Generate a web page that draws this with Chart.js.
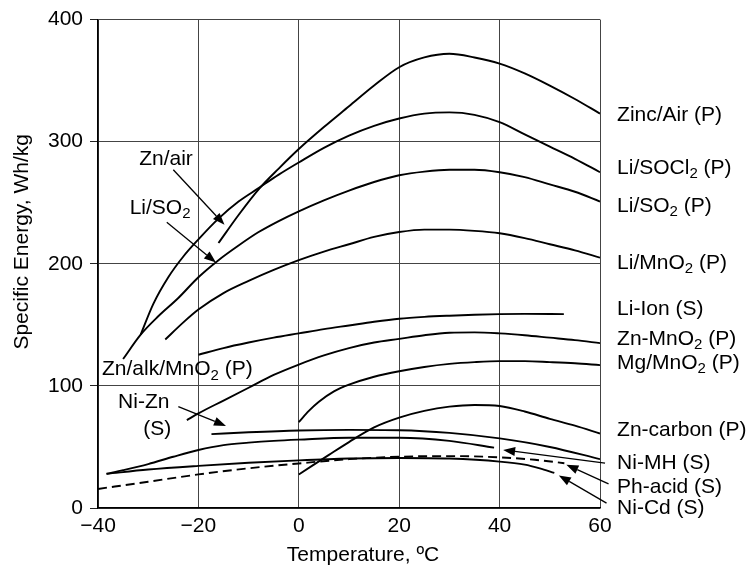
<!DOCTYPE html>
<html>
<head>
<meta charset="utf-8">
<script src="https://cdn.jsdelivr.net/npm/chart.js@4"></script>
<style>
  html, body { margin: 0; padding: 0; background: #fff; }
  canvas { display: block; }
</style>
</head>
<body>
<canvas id="chart" width="749" height="568"></canvas>
<script>
// ================================
// Data (temperature °C -> Wh/kg)
// ================================
const xTicks = [-40, -20, 0, 20, 40, 60];
const yTicks = [0, 100, 200, 300, 400];

const zincAirT = [-16, -12, -8, -4, 0, 5, 10, 15, 20, 25, 30, 35, 40, 45, 50, 55, 60];
const zincAirE = [217, 240, 261, 278, 294, 312, 329, 346, 361, 369, 372, 369, 364, 356, 346, 335, 323];

const liSocl2T = [-31.5, -29, -26, -23, -20, -16, -12, -8, -4, 0, 5, 10, 15, 20, 25, 30, 35, 40, 45, 50, 55, 60];
const liSocl2E = [142, 167, 189, 206, 220, 237, 251, 262, 273, 283, 295, 305, 313, 319, 323, 324, 322, 316, 306, 296, 286, 275];

const liSo2T = [-35, -31.5, -28, -24, -20, -16, -12, -8, -4, 0, 5, 10, 15, 20, 25, 30, 35, 40, 45, 50, 55, 60];
const liSo2E = [122, 142, 157, 172, 189, 203, 215, 226, 235, 243, 252, 260, 267, 272.5, 275.5, 277, 277, 275, 271, 265, 259, 251];

const liMno2T = [-26.6, -23, -20, -15, -10, -5, 0, 5, 10, 15, 20, 25, 30, 35, 40, 45, 50, 55, 60];
const liMno2E = [138, 152, 162.5, 176, 186, 195, 203, 210, 216, 222, 226, 228, 228, 227, 225, 221, 216, 211, 205];

const liIonT = [-20, -15, -10, -5, 0, 5, 10, 15, 20, 25, 30, 35, 40, 45, 52.8];
const liIonE = [125.5, 131, 135.5, 139.5, 143, 146.5, 149.5, 152.5, 155, 156.5, 157.5, 158.3, 158.8, 159, 158.8];

const znMno2T = [-22.3, -20, -15, -10, -5, 0, 5, 10, 15, 20, 25, 30, 35, 40, 45, 50, 55, 60];
const znMno2E = [72, 77.5, 88, 98.5, 109, 117.5, 125, 131, 135.5, 138.5, 141.5, 143.5, 143.8, 143, 141.5, 139.5, 137.5, 135];

const mgMno2T = [0, 2, 4, 7, 10, 15, 20, 25, 30, 35, 40, 45, 50, 55, 60];
const mgMno2E = [70.4, 79.5, 87, 95.5, 101, 107.5, 112, 115.5, 118, 119.5, 120.3, 120.3, 119.5, 118.5, 117];

const znCarbonT = [0, 3, 6, 10, 15, 20, 25, 30, 35, 40, 45, 50, 55, 60];
const znCarbonE = [27.5, 35.5, 43.5, 54, 66, 74, 79.5, 83, 84.4, 83.5, 79, 73, 67.5, 61];

const niZnT = [-17.4, -10, 0, 10, 20, 30, 40, 50, 60];
const niZnE = [60.5, 62, 63.5, 64, 63.7, 61.5, 57, 50, 40];

const niMhT = [-38.3, -35, -30, -25, -20, -15, -10, -5, 0, 10, 20, 30, 38.9];
const niMhE = [28, 31, 36, 42, 47.5, 51.5, 53.5, 55, 56, 57.5, 57.5, 55, 49.4];

const pbAcidT = [-40, -30, -20, -10, 0, 10, 20, 30, 40, 47, 52.9];
const pbAcidE = [15.6, 21.5, 27.5, 32.5, 36.5, 40, 42, 42.5, 41.5, 39.5, 36.7];

const niCdT = [-38.3, -30, -20, -10, 0, 10, 20, 30, 40, 45, 48, 50.9];
const niCdE = [28, 31.5, 34.5, 37, 39, 40.5, 41, 40.5, 38, 35.5, 32.5, 28.8];

// ================================
// Text fonts
// ================================
const FAMILY = '"Liberation Sans", Arial, sans-serif';
const FONT = '21px ' + FAMILY;
const SUB_FONT = '15px ' + FAMILY;

// Axis titles (anchor in data units, drawn centred)
const xTitle = { text: "Temperature, ºC", x: 12.8, dy: 47 };
const yTitle = { text: "Specific Energy, Wh/kg", y: 218, dx: -76 };

// Labels at the right of the plot (x, y in data units, "_2" = subscript)
const rightLabels = [
    { text: "Zinc/Air (P)", x: 63.4, y: 321.8 },
    { text: "Li/SOCl_2 (P)", x: 63.4, y: 278.2 },
    { text: "Li/SO_2 (P)", x: 63.4, y: 247.5 },
    { text: "Li/MnO_2 (P)", x: 63.4, y: 200.8 },
    { text: "Li-Ion (S)", x: 63.4, y: 162.7 },
    { text: "Zn-MnO_2 (P)", x: 63.4, y: 138.3 },
    { text: "Mg/MnO_2 (P)", x: 63.4, y: 118.8 },
    { text: "Zn-carbon (P)", x: 63.4, y: 63.5 },
    { text: "Ni-MH (S)", x: 63.4, y: 36.7 },
    { text: "Ph-acid (S)", x: 63.4, y: 16.9 },
    { text: "Ni-Cd (S)", x: 63.4, y: 0 }
];

// Labels inside the plot
const innerLabels = [
    { text: "Zn/air", x: -31.8, y: 285.3 },
    { text: "Li/SO_2", x: -33.7, y: 245.8 },
    { text: "Zn/alk/MnO_2 (P)", x: -39.2, y: 113.3 },
    { text: "Ni-Zn", x: -36, y: 87 },
    { text: "(S)", x: -31, y: 64.5 }
];

// Arrows: from (x1,y1) to head at (x2,y2), data units
const arrows = [
    { x1: -25, y1: 277, x2: -14.8, y2: 232 },
    { x1: -26.3, y1: 234, x2: -16.5, y2: 201 },
    { x1: -24, y1: 83, x2: -14.5, y2: 67.2 },
    { x1: 61, y1: 36.7, x2: 40.7, y2: 47.6 },
    { x1: 61.7, y1: 19.8, x2: 53.3, y2: 35.5 },
    { x1: 61.3, y1: 4, x2: 51.8, y2: 26.7 }
];

// Build one line dataset from a pair of arrays
function series(label, xs, ys, dash) {
    return {
        label,
        data: xs.map((t, i) => ({ x: t, y: ys[i] })),
        borderColor: "#000",
        borderWidth: 1.9,
        borderDash: dash || [],
        pointRadius: 0,
        fill: false,
        cubicInterpolationMode: "monotone"
    };
}

// Draw text with "_n" subscripts
function drawRich(ctx, str, x, y) {
    const parts = str.split(/_(\d)/);
    let cx = x;
    parts.forEach((p, i) => {
        ctx.font = i % 2 ? SUB_FONT : FONT;
        ctx.fillText(p, cx, y + (i % 2 ? 6 : 0));
        cx += ctx.measureText(p).width;
    });
}

function drawArrow(ctx, x1, y1, x2, y2) {
    const ang = Math.atan2(y2 - y1, x2 - x1);
    const len = 12, half = 4.5;
    const bx = x2 - len * Math.cos(ang), by = y2 - len * Math.sin(ang);
    ctx.beginPath();
    ctx.moveTo(x1, y1);
    ctx.lineTo(bx, by);
    ctx.stroke();
    ctx.beginPath();
    ctx.moveTo(x2, y2);
    ctx.lineTo(bx + half * Math.sin(ang), by - half * Math.cos(ang));
    ctx.lineTo(bx - half * Math.sin(ang), by + half * Math.cos(ang));
    ctx.closePath();
    ctx.fill();
}

// Plugin: axis titles, labels and leader arrows
const annotate = {
    id: "annotate",
    afterDraw(chart) {
        const ctx = chart.ctx;
        const xs = chart.scales.x, ys = chart.scales.y;
        ctx.save();
        ctx.fillStyle = "#000";
        ctx.strokeStyle = "#000";
        ctx.lineWidth = 1.3;
        ctx.textBaseline = "middle";

        // axis titles
        ctx.font = FONT;
        ctx.textAlign = "center";
        ctx.fillText(xTitle.text, xs.getPixelForValue(xTitle.x), xs.top + xTitle.dy);
        ctx.save();
        ctx.translate(ys.right + yTitle.dx, ys.getPixelForValue(yTitle.y));
        ctx.rotate(-Math.PI / 2);
        ctx.fillText(yTitle.text, 0, 0);
        ctx.restore();

        ctx.textAlign = "left";
        rightLabels.concat(innerLabels).forEach(l => {
            drawRich(ctx, l.text, xs.getPixelForValue(l.x), ys.getPixelForValue(l.y));
        });
        arrows.forEach(a => {
            drawArrow(ctx,
                xs.getPixelForValue(a.x1), ys.getPixelForValue(a.y1),
                xs.getPixelForValue(a.x2), ys.getPixelForValue(a.y2));
        });
        ctx.restore();
    }
};

// ================================
// Chart
// ================================
new Chart(document.getElementById("chart"), {
    type: "line",
    data: {
        datasets: [
            series("Zinc/Air (P)", zincAirT, zincAirE),
            series("Li/SOCl2 (P)", liSocl2T, liSocl2E),
            series("Li/SO2 (P)", liSo2T, liSo2E),
            series("Li/MnO2 (P)", liMno2T, liMno2E),
            series("Li-Ion (S)", liIonT, liIonE),
            series("Zn-MnO2 (P)", znMno2T, znMno2E),
            series("Mg/MnO2 (P)", mgMno2T, mgMno2E),
            series("Zn-carbon (P)", znCarbonT, znCarbonE),
            series("Ni-Zn (S)", niZnT, niZnE),
            series("Ni-MH (S)", niMhT, niMhE),
            series("Ph-acid (S)", pbAcidT, pbAcidE, [9, 5]),
            series("Ni-Cd (S)", niCdT, niCdE)
        ]
    },
    options: {
        responsive: false,
        animation: false,
        layout: { padding: { left: 0, right: 149, top: 17, bottom: 0 } },
        plugins: {
            legend: { display: false },
            tooltip: { enabled: false }
        },
        scales: {
            x: {
                type: "linear",
                min: xTicks[0],
                max: xTicks[xTicks.length - 1],
                afterBuildTicks: s => { s.ticks = xTicks.map(v => ({ value: v })); },
                afterFit: s => { s.height = 60; },
                grid: { color: "#444", lineWidth: 1, drawTicks: false },
                border: { color: "#000", width: 1.5 },
                ticks: {
                    color: "#000",
                    padding: 6,
                    font: { family: FAMILY, size: 21 },
                    callback: v => (v < 0 ? "\u2212" + Math.abs(v) : String(v))
                }
            },
            y: {
                min: yTicks[0],
                max: yTicks[yTicks.length - 1],
                afterBuildTicks: s => { s.ticks = yTicks.map(v => ({ value: v })); },
                afterFit: s => { s.width = 98; },
                grid: { color: "#444", lineWidth: 1, tickLength: 8, tickColor: "#222" },
                border: { color: "#000", width: 1.5 },
                ticks: {
                    color: "#000",
                    padding: 7,
                    font: { family: FAMILY, size: 21 }
                }
            }
        }
    },
    plugins: [annotate]
});
</script>
</body>
</html>
